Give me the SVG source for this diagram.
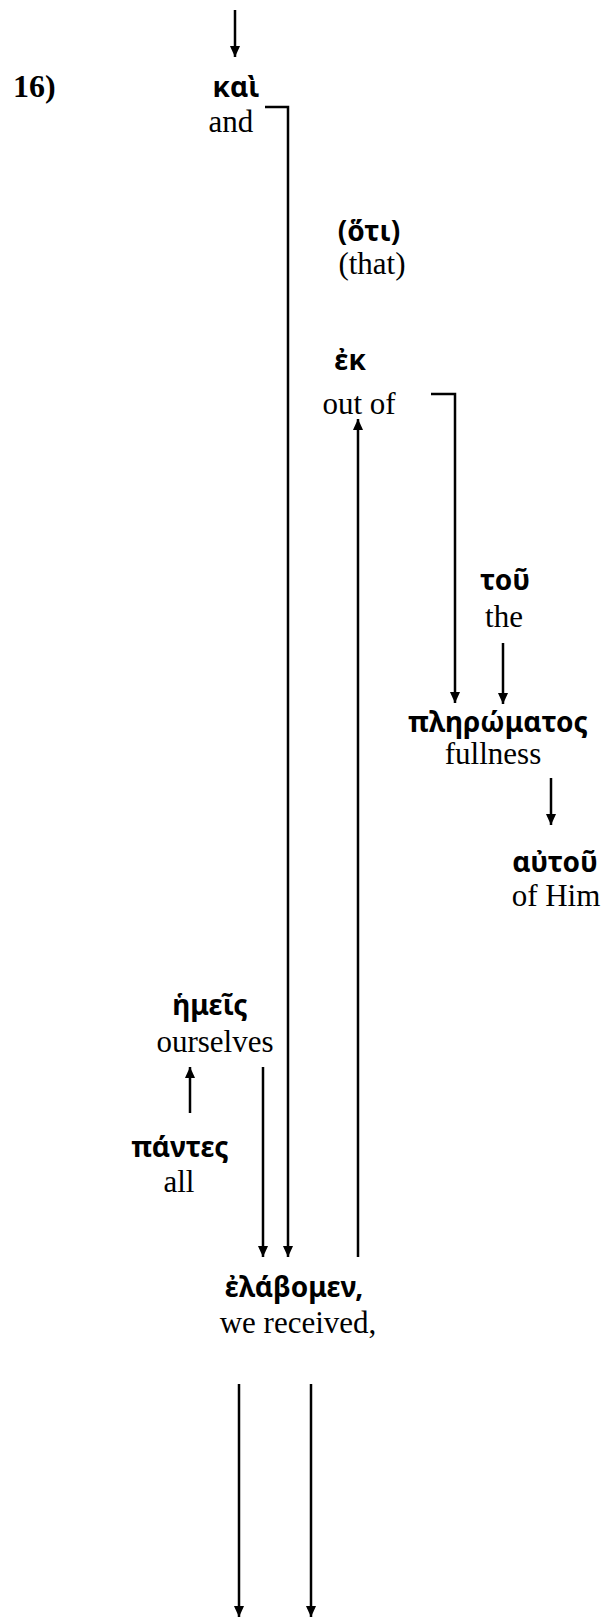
<svg xmlns="http://www.w3.org/2000/svg" width="606" height="1617" viewBox="0 0 606 1617">
<style>
.gk{font-family:"Noto Sans","DejaVu Sans",sans-serif;font-weight:bold;font-size:28px;fill:#000;text-anchor:middle}
.en{font-family:"Liberation Serif","Times New Roman",serif;font-size:31px;fill:#000;text-anchor:middle}
.num{font-family:"Liberation Serif","Times New Roman",serif;font-size:32px;font-weight:bold;fill:#000}
.ln{fill:none;stroke:#000;stroke-width:2.5}
</style>
<defs>
<marker id="ah" markerUnits="userSpaceOnUse" markerWidth="11" markerHeight="12" refX="12" refY="5.5" orient="auto" viewBox="0 0 12 11">
<path d="M0,0 L12,5.5 L0,11 z" fill="#000"/>
</marker>
</defs>
<rect width="606" height="1617" fill="#fff"/>
<text class="num" x="13" y="97">16)</text>
<g id="kai"><text class="gk" x="236" y="97">καὶ</text><text class="en" x="231" y="132">and</text></g>
<g id="hoti"><text class="gk" x="369" y="241">(ὅτι)</text><text class="en" x="372" y="274">(that)</text></g>
<g id="ek"><text class="gk" x="350" y="370">ἐκ</text><text class="en" x="359" y="414">out of</text></g>
<g id="tou"><text class="gk" x="505" y="590">τοῦ</text><text class="en" x="504" y="627">the</text></g>
<g id="plerOmatos"><text class="gk" x="498" y="732">πληρώματος</text><text class="en" x="493" y="764">fullness</text></g>
<g id="autou"><text class="gk" x="555" y="872">αὐτοῦ</text><text class="en" x="556" y="906">of Him</text></g>
<g id="hemeis"><text class="gk" x="210" y="1015">ἡμεῖς</text><text class="en" x="215" y="1052">ourselves</text></g>
<g id="pantes"><text class="gk" x="180" y="1157">πάντες</text><text class="en" x="179" y="1192">all</text></g>
<g id="elabomen"><text class="gk" x="294" y="1297">ἐλάβομεν,</text><text class="en" x="298" y="1333">we received,</text></g>
<g id="connectors">
<path class="ln" d="M235 10 V57" marker-end="url(#ah)"/>
<path class="ln" d="M265 107 H288 V1257" marker-end="url(#ah)"/>
<path class="ln" d="M263 1067 V1257" marker-end="url(#ah)"/>
<path class="ln" d="M358 1257 V419" marker-end="url(#ah)"/>
<path class="ln" d="M431 394 H455 V703" marker-end="url(#ah)"/>
<path class="ln" d="M503 643 V704" marker-end="url(#ah)"/>
<path class="ln" d="M551 778 V825" marker-end="url(#ah)"/>
<path class="ln" d="M190 1113 V1067" marker-end="url(#ah)"/>
<path class="ln" d="M239 1384 V1617" marker-end="url(#ah)"/>
<path class="ln" d="M311 1384 V1617" marker-end="url(#ah)"/>
</g>
</svg>
